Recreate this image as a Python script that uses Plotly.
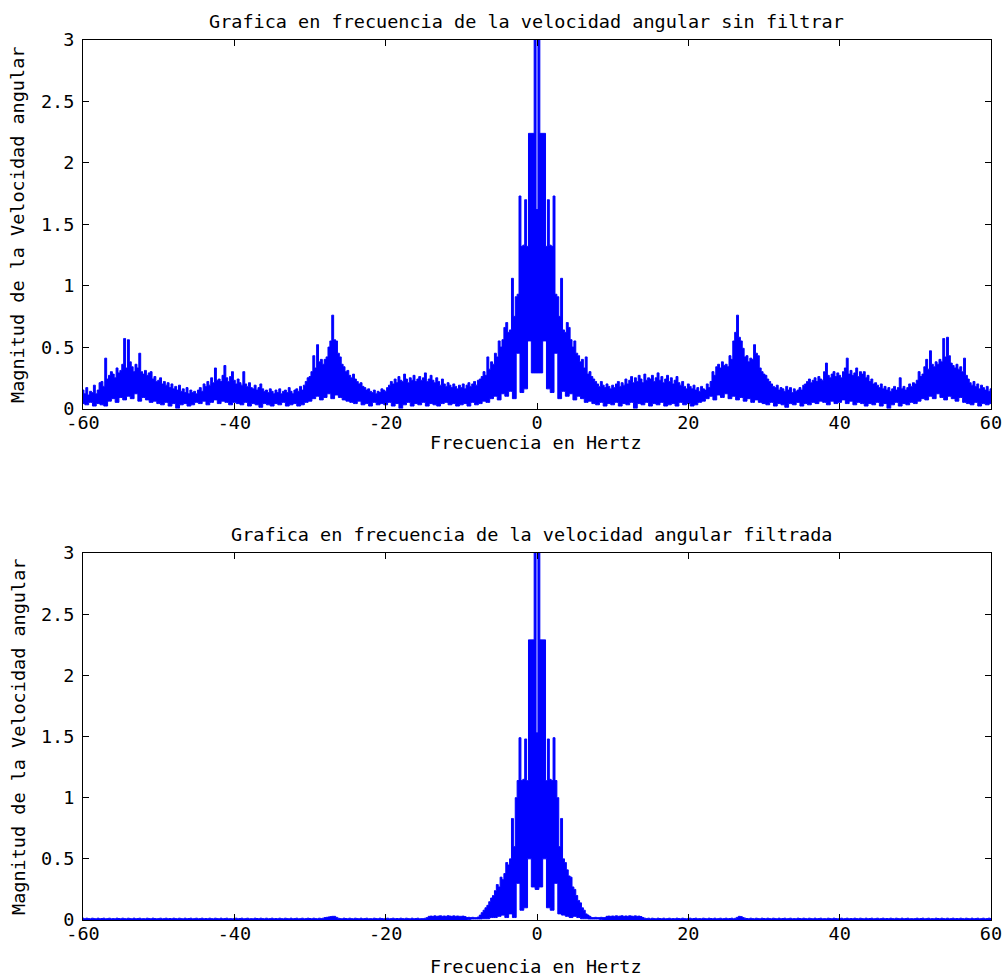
import plotly.graph_objects as go

# ---------------- data ----------------
# frequency grids (Hz): max envelope sampled every 0.25 Hz, min envelope every 0.5 Hz
freq_max = [round(-60 + i * 0.25, 2) for i in range(481)]
freq_min = [round(-60 + i * 0.5, 2) for i in range(241)]

# Upper envelope of |FFT| of the unfiltered angular velocity (rows of 5 Hz)
unfilt_max = (
    [0.15,0.12,0.17,0.11,0.14,0.13,0.19,0.12,0.15,0.21,0.22,0.18,0.41,0.24,0.27,0.30,0.28,0.25,0.33,0.29] +  # -60
    [0.31,0.36,0.57,0.33,0.56,0.38,0.34,0.30,0.36,0.33,0.45,0.30,0.28,0.31,0.27,0.29,0.30,0.24,0.26,0.22] +  # -55
    [0.23,0.25,0.20,0.22,0.19,0.21,0.17,0.20,0.16,0.18,0.15,0.19,0.14,0.16,0.13,0.17,0.12,0.15,0.13,0.14] +  # -50
    [0.12,0.15,0.17,0.14,0.20,0.18,0.22,0.19,0.25,0.21,0.33,0.23,0.24,0.22,0.27,0.35,0.25,0.22,0.26,0.30] +  # -45
    [0.23,0.20,0.24,0.21,0.19,0.30,0.20,0.18,0.21,0.17,0.16,0.19,0.15,0.17,0.20,0.16,0.14,0.15,0.13,0.16] +  # -40
    [0.14,0.12,0.15,0.13,0.16,0.12,0.14,0.15,0.13,0.17,0.14,0.12,0.15,0.16,0.14,0.18,0.15,0.19,0.22,0.25] +  # -35
    [0.26,0.30,0.43,0.33,0.52,0.38,0.40,0.36,0.40,0.42,0.50,0.55,0.76,0.56,0.55,0.45,0.42,0.36,0.34,0.30] +  # -30
    [0.31,0.27,0.25,0.28,0.24,0.22,0.20,0.21,0.18,0.17,0.15,0.16,0.14,0.13,0.15,0.12,0.14,0.13,0.16,0.15] +  # -25
    [0.14,0.17,0.19,0.22,0.20,0.24,0.21,0.26,0.23,0.22,0.28,0.24,0.21,0.25,0.23,0.27,0.22,0.24,0.26,0.23] +  # -20
    [0.25,0.29,0.22,0.24,0.27,0.23,0.21,0.25,0.22,0.19,0.24,0.20,0.18,0.21,0.19,0.17,0.20,0.18,0.16,0.19] +  # -15
    [0.17,0.20,0.16,0.19,0.21,0.18,0.20,0.22,0.19,0.23,0.24,0.26,0.30,0.27,0.42,0.32,0.38,0.36,0.45,0.42] +  # -10
    [0.55,0.50,0.56,0.66,0.70,0.62,0.64,1.06,0.75,0.91,0.93,1.73,1.32,1.33,1.70,1.32,2.24,2.24,2.24,3.60] +  # -5
    [1.62,3.60,2.24,2.24,2.24,1.32,1.70,1.33,1.32,1.73,0.93,0.91,0.75,1.06,0.64,0.62,0.70,0.66,0.56,0.50] +  # 0
    [0.55,0.45,0.43,0.38,0.40,0.33,0.42,0.28,0.30,0.26,0.24,0.22,0.20,0.18,0.22,0.19,0.17,0.20,0.18,0.16] +  # 5
    [0.19,0.17,0.20,0.22,0.18,0.21,0.19,0.24,0.20,0.23,0.26,0.21,0.25,0.22,0.27,0.24,0.21,0.28,0.23,0.25] +  # 10
    [0.24,0.27,0.22,0.25,0.29,0.23,0.26,0.21,0.24,0.27,0.22,0.25,0.20,0.23,0.26,0.21,0.19,0.22,0.18,0.16] +  # 15
    [0.20,0.18,0.16,0.19,0.15,0.17,0.14,0.18,0.16,0.15,0.20,0.17,0.22,0.30,0.27,0.34,0.36,0.33,0.38,0.35] +  # 20
    [0.36,0.34,0.43,0.40,0.55,0.62,0.76,0.58,0.55,0.49,0.42,0.43,0.38,0.41,0.40,0.52,0.45,0.43,0.33,0.30] +  # 25
    [0.28,0.27,0.24,0.22,0.20,0.18,0.17,0.19,0.15,0.17,0.16,0.14,0.18,0.15,0.17,0.13,0.16,0.14,0.15,0.17] +  # 30
    [0.15,0.19,0.20,0.22,0.24,0.21,0.23,0.25,0.22,0.26,0.24,0.23,0.30,0.37,0.27,0.25,0.28,0.30,0.26,0.29] +  # 35
    [0.27,0.25,0.30,0.33,0.41,0.28,0.31,0.27,0.29,0.33,0.26,0.30,0.28,0.30,0.25,0.27,0.22,0.24,0.20,0.21] +  # 40
    [0.19,0.17,0.20,0.16,0.18,0.15,0.17,0.14,0.16,0.18,0.15,0.17,0.25,0.16,0.18,0.15,0.17,0.20,0.18,0.21] +  # 45
    [0.20,0.23,0.30,0.26,0.28,0.34,0.40,0.32,0.47,0.36,0.34,0.38,0.36,0.40,0.38,0.57,0.42,0.58,0.43,0.37] +  # 50
    [0.35,0.33,0.36,0.32,0.34,0.30,0.41,0.27,0.24,0.21,0.19,0.22,0.18,0.20,0.16,0.19,0.17,0.15,0.18,0.14] +  # 55
    [0.16]                                                                                                     # 60
)

# Lower envelope, unfiltered (rows of 10 Hz, 0.5 Hz steps)
unfilt_min = (
    [0.04,0.03,0.05,0.02,0.04,0.03,0.02,0.06,0.08,0.05,0.09,0.07,0.10,0.08,0.12,0.06,0.09,0.07,0.05,0.06] +  # -60
    [0.04,0.03,0.05,0.02,0.04,0.00,0.03,0.04,0.02,0.03,0.05,0.04,0.06,0.03,0.05,0.07,0.04,0.06,0.05,0.03] +  # -50
    [0.05,0.04,0.03,0.05,0.02,0.04,0.03,0.01,0.04,0.03,0.02,0.04,0.03,0.05,0.02,0.03,0.04,0.02,0.03,0.05] +  # -40
    [0.06,0.08,0.10,0.07,0.09,0.12,0.08,0.11,0.09,0.07,0.06,0.05,0.04,0.06,0.03,0.04,0.02,0.05,0.03,0.04] +  # -30
    [0.03,0.05,0.02,0.04,0.00,0.03,0.05,0.02,0.04,0.03,0.05,0.02,0.04,0.03,0.02,0.04,0.05,0.03,0.04,0.02] +  # -20
    [0.03,0.04,0.02,0.05,0.03,0.04,0.06,0.05,0.08,0.10,0.07,0.12,0.10,0.14,0.08,0.45,0.13,0.16,0.55,0.29] +  # -10
    [0.29,0.29,0.55,0.16,0.13,0.45,0.08,0.14,0.10,0.12,0.07,0.10,0.08,0.05,0.06,0.04,0.03,0.05,0.02,0.04] +  # 0
    [0.03,0.05,0.02,0.04,0.03,0.05,0.00,0.04,0.03,0.05,0.02,0.04,0.03,0.05,0.02,0.03,0.04,0.02,0.05,0.03] +  # 10
    [0.04,0.02,0.03,0.05,0.06,0.08,0.10,0.07,0.11,0.09,0.12,0.08,0.10,0.07,0.09,0.06,0.08,0.05,0.07,0.05] +  # 20
    [0.04,0.03,0.05,0.02,0.04,0.03,0.01,0.04,0.03,0.05,0.02,0.04,0.03,0.05,0.04,0.06,0.05,0.03,0.06,0.04] +  # 30
    [0.05,0.07,0.04,0.06,0.03,0.05,0.04,0.02,0.04,0.03,0.05,0.02,0.04,0.00,0.03,0.05,0.02,0.04,0.03,0.05] +  # 40
    [0.04,0.06,0.08,0.07,0.10,0.08,0.12,0.09,0.07,0.10,0.08,0.06,0.09,0.05,0.04,0.03,0.05,0.02,0.04,0.03] +  # 50
    [0.04]                                                                                                     # 60
)

# Upper envelope of |FFT| of the filtered angular velocity (rows of 5 Hz)
filt_max = (
    [0.015,0.010,0.015,0.012,0.010,0.015,0.012,0.010,0.015,0.010,0.012,0.015,0.010,0.012,0.015,0.010,0.012,0.010,0.015,0.012] +  # -60
    [0.010,0.015,0.012,0.010,0.015,0.012,0.010,0.015,0.010,0.012,0.015,0.010,0.012,0.010,0.015,0.012,0.010,0.015,0.012,0.010] +  # -55
    [0.012,0.015,0.010,0.012,0.015,0.010,0.012,0.010,0.015,0.012,0.010,0.015,0.012,0.010,0.015,0.010,0.012,0.015,0.010,0.012] +  # -50
    [0.015,0.010,0.012,0.015,0.010,0.012,0.010,0.015,0.012,0.010,0.015,0.012,0.010,0.015,0.010,0.012,0.015,0.010,0.012,0.010] +  # -45
    [0.012,0.015,0.010,0.012,0.015,0.010,0.012,0.015,0.010,0.012,0.010,0.015,0.012,0.010,0.015,0.012,0.010,0.015,0.010,0.012] +  # -40
    [0.015,0.010,0.012,0.010,0.015,0.012,0.010,0.015,0.012,0.010,0.015,0.010,0.012,0.015,0.010,0.012,0.015,0.010,0.012,0.015] +  # -35
    [0.012,0.010,0.015,0.012,0.010,0.015,0.012,0.015,0.020,0.022,0.025,0.028,0.030,0.030,0.022,0.015,0.012,0.010,0.015,0.012] +  # -30
    [0.010,0.015,0.012,0.010,0.015,0.012,0.010,0.015,0.010,0.012,0.015,0.010,0.012,0.010,0.015,0.012,0.010,0.015,0.012,0.010] +  # -25
    [0.012,0.015,0.010,0.012,0.015,0.010,0.012,0.010,0.015,0.012,0.010,0.015,0.012,0.010,0.015,0.010,0.012,0.015,0.010,0.012] +  # -20
    [0.012,0.015,0.020,0.030,0.032,0.030,0.034,0.030,0.032,0.035,0.030,0.033,0.030,0.035,0.032,0.030,0.034,0.030,0.033,0.030] +  # -15
    [0.030,0.032,0.028,0.020,0.022,0.020,0.022,0.020,0.020,0.025,0.040,0.060,0.080,0.100,0.120,0.150,0.180,0.200,0.240,0.290] +  # -10
    [0.270,0.350,0.330,0.380,0.470,0.450,0.500,0.830,0.600,1.000,1.140,1.490,1.140,1.150,1.480,1.140,2.290,2.290,2.290,3.600] +  # -5
    [1.530,3.600,2.290,2.290,2.290,1.140,1.480,1.150,1.140,1.490,1.140,1.000,0.600,0.830,0.500,0.470,0.410,0.360,0.350,0.270] +  # 0
    [0.250,0.200,0.160,0.140,0.100,0.080,0.050,0.040,0.030,0.020,0.020,0.022,0.020,0.020,0.022,0.020,0.020,0.030,0.032,0.030] +  # 5
    [0.033,0.030,0.035,0.030,0.032,0.035,0.030,0.033,0.030,0.035,0.032,0.030,0.034,0.030,0.032,0.028,0.020,0.015,0.012,0.015] +  # 10
    [0.010,0.015,0.012,0.010,0.015,0.012,0.010,0.015,0.010,0.012,0.015,0.010,0.012,0.010,0.015,0.012,0.010,0.015,0.012,0.010] +  # 15
    [0.012,0.015,0.010,0.012,0.015,0.010,0.012,0.010,0.015,0.012,0.010,0.015,0.012,0.010,0.015,0.010,0.012,0.015,0.010,0.012] +  # 20
    [0.015,0.010,0.012,0.015,0.010,0.015,0.022,0.030,0.028,0.020,0.015,0.012,0.010,0.015,0.012,0.010,0.015,0.012,0.010,0.015] +  # 25
    [0.012,0.010,0.015,0.012,0.010,0.015,0.012,0.010,0.015,0.010,0.012,0.015,0.010,0.012,0.015,0.010,0.012,0.010,0.015,0.012] +  # 30
    [0.010,0.015,0.012,0.010,0.015,0.012,0.010,0.015,0.010,0.012,0.015,0.010,0.012,0.010,0.015,0.012,0.010,0.015,0.012,0.010] +  # 35
    [0.012,0.015,0.010,0.012,0.015,0.010,0.012,0.010,0.015,0.012,0.010,0.015,0.012,0.010,0.015,0.010,0.012,0.015,0.010,0.012] +  # 40
    [0.015,0.010,0.012,0.015,0.010,0.012,0.010,0.015,0.012,0.010,0.015,0.012,0.010,0.015,0.010,0.012,0.015,0.010,0.012,0.010] +  # 45
    [0.012,0.015,0.010,0.012,0.015,0.010,0.012,0.015,0.010,0.012,0.010,0.015,0.012,0.010,0.015,0.012,0.010,0.015,0.010,0.012] +  # 50
    [0.015,0.010,0.012,0.010,0.015,0.012,0.010,0.015,0.012,0.010,0.015,0.010,0.012,0.015,0.010,0.012,0.015,0.010,0.012,0.015] +  # 55
    [0.012]                                                                                                                       # 60
)

# Lower envelope, filtered (rows of 10 Hz, 0.5 Hz steps)
filt_min = (
    [0.0] * 20 +  # -60
    [0.0] * 20 +  # -50
    [0.0] * 20 +  # -40
    [0.0] * 20 +  # -30
    [0.0] * 20 +  # -20
    [0.0,0.0,0.005,0.008,0.008,0.008,0.01,0.01,0.02,0.02,0.03,0.04,0.02,0.05,0.02,0.30,0.08,0.10,0.50,0.27] +  # -10
    [0.25,0.27,0.50,0.10,0.08,0.30,0.05,0.04,0.03,0.02,0.03,0.02,0.01,0.01,0.008,0.008,0.008,0.005,0.0,0.0] +  # 0
    [0.0] * 20 +  # 10
    [0.0] * 20 +  # 20
    [0.0] * 20 +  # 30
    [0.0] * 20 +  # 40
    [0.0] * 20 +  # 50
    [0.0]         # 60
)

x_tick_vals = [-60, -40, -20, 0, 20, 40, 60]
x_tick_text = ["-60", "-40", "-20", "0", "20", "40", "60"]
y_tick_vals = [0, 0.5, 1, 1.5, 2, 2.5, 3]
y_tick_text = ["0", "0.5", "1", "1.5", "2", "2.5", "3"]

titles = ["Grafica en frecuencia de la velocidad angular sin filtrar",
          "Grafica en frecuencia de la velocidad angular filtrada"]
x_label = "Frecuencia en Hertz"
y_label = "Magnitud de la Velocidad angular"

# ---------------- figure ----------------
W, H = 1003, 980
FONT = "DejaVu Sans Mono"
FS = 18.5
BLUE = "#0000ff"

def fx(p):
    return p / W

def fy(p):
    return 1 - p / H

fig = go.Figure()

panels = [
    (unfilt_min, unfilt_max, "x", "y"),
    (filt_min, filt_max, "x2", "y2"),
]
for mn, mx, xa, ya in panels:
    fig.add_trace(go.Scatter(x=freq_min, y=mn, xaxis=xa, yaxis=ya, mode="lines",
                             line=dict(color=BLUE, width=1, shape="hvh"),
                             showlegend=False, hoverinfo="skip"))
    fig.add_trace(go.Scatter(x=freq_max, y=mx, xaxis=xa, yaxis=ya, mode="lines",
                             line=dict(color=BLUE, width=1, shape="hvh"),
                             fill="tonexty", fillcolor=BLUE,
                             showlegend=False, hoverinfo="skip"))

axis_common = dict(showline=True, linecolor="black", linewidth=1, mirror="ticks",
                   ticks="inside", ticklen=6, tickwidth=1, tickcolor="black",
                   showgrid=False, zeroline=False, automargin=False,
                   tickfont=dict(family=FONT, size=FS, color="black"))

x_dom = [fx(83), fx(991)]
fig.update_layout(
    template="none",
    width=W, height=H,
    margin=dict(l=0, r=0, t=0, b=0, autoexpand=False),
    paper_bgcolor="white", plot_bgcolor="white",
    showlegend=False,
    xaxis=dict(domain=x_dom, anchor="y", range=[-60, 60],
               tickmode="array", tickvals=x_tick_vals, ticktext=x_tick_text,
               ticklabelstandoff=-3, **axis_common),
    yaxis=dict(domain=[fy(408.5), fy(40)], anchor="x", range=[0, 3],
               tickmode="array", tickvals=y_tick_vals, ticktext=y_tick_text,
               ticklabelstandoff=4, **axis_common),
    xaxis2=dict(domain=x_dom, anchor="y2", range=[-60, 60],
                tickmode="array", tickvals=x_tick_vals, ticktext=x_tick_text,
                ticklabelstandoff=-3, **axis_common),
    yaxis2=dict(domain=[fy(920), fy(553)], anchor="x2", range=[0, 3],
                tickmode="array", tickvals=y_tick_vals, ticktext=y_tick_text,
                ticklabelstandoff=4, **axis_common),
)

txt = dict(family=FONT, size=FS, color="black")
ann = [
    dict(text=titles[0], x=fx(526), y=fy(21)),
    dict(text=titles[1], x=fx(531), y=fy(534)),
    dict(text=x_label, x=fx(536), y=fy(442)),
    dict(text=x_label, x=fx(536), y=fy(966)),
    dict(text=y_label, x=fx(18), y=fy(225), textangle=-90),
    dict(text=y_label, x=fx(18), y=fy(737), textangle=-90),
]
for a in ann:
    fig.add_annotation(xref="paper", yref="paper", xanchor="center", yanchor="middle",
                       showarrow=False, font=txt, **a)

# remove the browser's default 8px body margin so the 1003x980 figure fills the window
fig.write_html("out.html",
               config={"displayModeBar": False},
               post_script="document.body.style.margin='0px';document.body.style.overflow='hidden';")
